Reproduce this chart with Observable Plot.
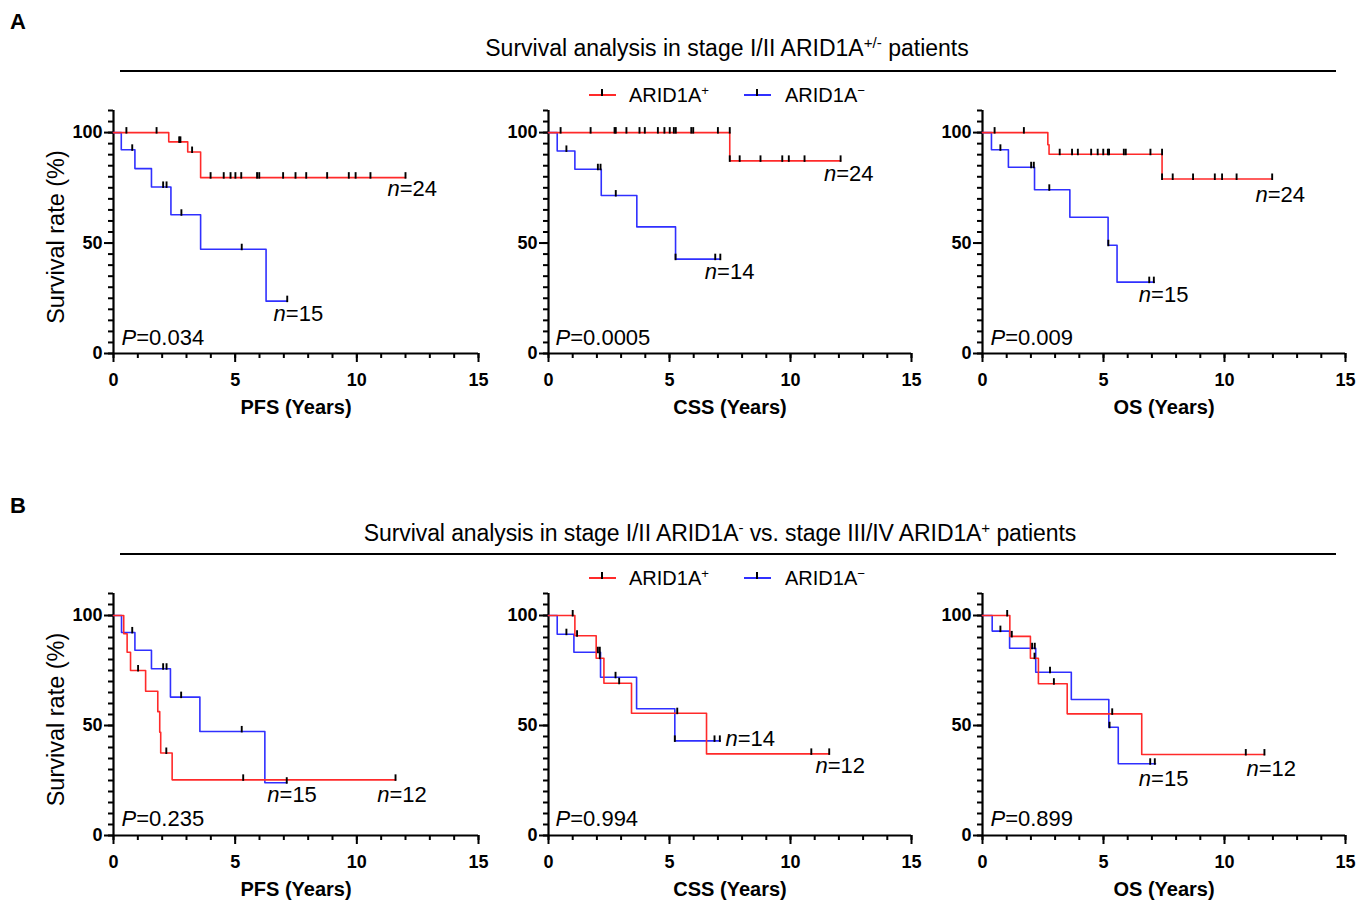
<!DOCTYPE html>
<html><head><meta charset="utf-8">
<script src="https://cdn.jsdelivr.net/npm/d3@7"></script>
<script src="https://cdn.jsdelivr.net/npm/@observablehq/plot@0.6"></script>
<style>
body{margin:0;background:#fff;font-family:"Liberation Sans",Arial,sans-serif;color:#000;}
#root{position:relative;width:1365px;height:900px;overflow:hidden;background:#fff;}
.abs{position:absolute;}
.letter{font-weight:bold;font-size:22px;line-height:1;}
.title{font-size:23px;white-space:nowrap;transform:translate(-50%,-50%);line-height:1;}
.rule{height:2px;background:#000;}
.lg{font-size:20px;white-space:nowrap;transform:translateY(-50%);line-height:1;}
.sw{height:2px;}
.sw::after{content:"";position:absolute;left:12px;bottom:0;width:2px;height:7px;background:#000;}
sup{font-size:66%;vertical-align:0.5em;line-height:0}
.panel{position:absolute;}
</style>
</head><body>
<div id="root"></div>
<script>
// ---------- data ----------
const RED = "#ff2a2a", BLUE = "#3030ff";
const legendLabels = ["ARID1A<sup>+</sup>", "ARID1A<sup>\u2212</sup>"];
const titleA = "Survival analysis in stage I/II ARID1A<sup>+/-</sup> patients";
const titleB = "Survival analysis in stage I/II ARID1A<sup>-</sup> vs. stage III/IV ARID1A<sup>+</sup> patients";
const xLabels = ["PFS (Years)", "CSS (Years)", "OS (Years)"];
const yLabel = "Survival rate (%)";
const xMajorTicks = [0, 5, 10, 15];
const yMajorTicks = [0, 50, 100];

// A1 PFS
const A1_pos_t = [0, 2.27, 3.05, 3.58, 12.0];
const A1_pos_s = [100, 95.8, 91.2, 79.6, 79.6];
const A1_pos_ct = [0.53, 1.77, 2.7, 2.75, 3.23, 3.99, 4.53, 4.81, 5.01, 5.25, 5.9, 5.99, 6.97, 7.48, 7.92, 8.78, 9.67, 9.95, 10.56, 12.0];
const A1_pos_cs = [100, 100, 95.8, 95.8, 91.2, 79.6, 79.6, 79.6, 79.6, 79.6, 79.6, 79.6, 79.6, 79.6, 79.6, 79.6, 79.6, 79.6, 79.6, 79.6];
const A1_neg_t = [0, 0.32, 0.88, 1.56, 2.36, 3.58, 6.27, 7.14];
const A1_neg_s = [100, 92.2, 83.7, 75.4, 62.8, 47.2, 23.7, 23.7];
const A1_neg_ct = [0.77, 2.04, 2.18, 2.79, 5.27, 7.14];
const A1_neg_cs = [92.2, 75.4, 75.4, 62.8, 47.2, 23.7];

// A2 CSS
const A2_pos_t = [0, 7.49, 12.07];
const A2_pos_s = [100, 87.2, 87.2];
const A2_pos_ct = [0.5, 1.74, 2.73, 2.78, 3.22, 3.76, 3.98, 4.52, 4.79, 5.01, 5.18, 5.26, 5.9, 5.98, 7.0, 7.49, 7.49, 7.9, 8.76, 9.66, 9.93, 10.58, 12.07];
const A2_pos_cs = [100, 100, 100, 100, 100, 100, 100, 100, 100, 100, 100, 100, 100, 100, 100, 100, 87.2, 87.2, 87.2, 87.2, 87.2, 87.2, 87.2];
const A2_neg_t = [0, 0.36, 1.09, 2.18, 3.65, 5.25, 7.1];
const A2_neg_s = [100, 91.7, 83.4, 71.5, 57.3, 42.7, 42.7];
const A2_neg_ct = [0.74, 2.04, 2.15, 2.78, 5.25, 6.89, 7.1];
const A2_neg_cs = [91.7, 83.4, 83.4, 71.5, 42.7, 42.7, 42.7];

// A3 OS
const A3_pos_t = [0, 2.7, 2.75, 7.42, 11.97];
const A3_pos_s = [100, 94.5, 90.2, 79.0, 79.0];
const A3_pos_ct = [0.5, 1.71, 3.19, 3.7, 3.94, 4.49, 4.76, 4.99, 5.18, 5.23, 5.84, 5.92, 6.94, 7.42, 7.42, 7.86, 8.7, 9.6, 9.9, 10.5, 11.97];
const A3_pos_cs = [100, 100, 90.2, 90.2, 90.2, 90.2, 90.2, 90.2, 90.2, 90.2, 90.2, 90.2, 90.2, 90.2, 79.0, 79.0, 79.0, 79.0, 79.0, 79.0, 79.0];
const A3_neg_t = [0, 0.37, 1.07, 2.15, 3.61, 5.19, 5.56, 7.1];
const A3_neg_s = [100, 92.2, 84.3, 74.1, 61.7, 49.0, 32.3, 32.3];
const A3_neg_ct = [0.74, 2.01, 2.12, 2.76, 5.2, 6.89, 7.08];
const A3_neg_cs = [92.2, 84.3, 84.3, 74.1, 49.0, 32.3, 32.3];

// B1 PFS
const B1_pos_t = [0, 0.42, 0.56, 0.7, 1.32, 1.82, 1.9, 1.94, 2.41, 11.59];
const B1_pos_s = [100, 91.7, 83.3, 75.0, 65.6, 56.3, 46.9, 37.5, 25.3, 25.3];
const B1_pos_ct = [1.01, 2.17, 5.33, 11.59];
const B1_pos_cs = [75.0, 37.5, 25.3, 25.3];
const B1_neg_t = [0, 0.33, 0.88, 1.56, 2.34, 3.55, 6.22, 7.12];
const B1_neg_s = [100, 92.3, 84.2, 75.8, 62.9, 47.3, 24.0, 24.0];
const B1_neg_ct = [0.77, 2.04, 2.18, 2.78, 5.27, 7.12];
const B1_neg_cs = [92.3, 75.8, 75.8, 62.9, 47.3, 24.0];

// B2 CSS
const B2_pos_t = [0, 1.09, 1.97, 2.29, 3.43, 6.53, 11.6];
const B2_pos_s = [100, 90.8, 80.6, 69.2, 55.6, 37.1, 37.1];
const B2_pos_ct = [1.0, 1.18, 2.12, 2.92, 5.32, 10.86, 11.6];
const B2_pos_cs = [100, 90.8, 80.6, 69.2, 55.6, 37.1, 37.1];
const B2_neg_t = [0, 0.36, 1.05, 2.15, 3.64, 5.22, 7.1];
const B2_neg_s = [100, 91.5, 83.3, 71.9, 57.6, 43.0, 43.0];
const B2_neg_ct = [0.74, 2.04, 2.12, 2.77, 5.22, 6.86, 7.08];
const B2_neg_cs = [91.5, 83.3, 83.3, 71.9, 43.0, 43.0, 43.0];

// B3 OS
const B3_pos_t = [0, 1.13, 1.98, 2.31, 3.5, 6.58, 11.65];
const B3_pos_s = [100, 90.5, 80.6, 69.0, 55.3, 36.8, 36.8];
const B3_pos_ct = [1.02, 1.21, 2.15, 2.95, 5.36, 10.88, 11.65];
const B3_pos_cs = [100, 90.5, 80.6, 69.0, 55.3, 36.8, 36.8];
const B3_neg_t = [0, 0.4, 1.12, 2.2, 3.67, 5.22, 5.61, 7.15];
const B3_neg_s = [100, 92.9, 85.1, 74.2, 61.8, 49.2, 32.6, 32.6];
const B3_neg_ct = [0.74, 2.05, 2.16, 2.79, 5.25, 6.93, 7.12];
const B3_neg_cs = [92.9, 85.1, 85.1, 74.2, 49.2, 32.6, 32.6];

const pValues = ["0.034", "0.0005", "0.009", "0.235", "0.994", "0.899"];
const nPos = ["24", "24", "24", "12", "12", "12"];
const nNeg = ["15", "14", "15", "15", "14", "15"];

// ---------- layout ----------
const root = document.getElementById("root");
function addDiv(cls, html, style) {
  const d = document.createElement("div");
  d.className = "abs " + cls;
  d.innerHTML = html;
  Object.assign(d.style, style);
  root.appendChild(d);
  return d;
}
addDiv("letter", "A", {left: "10px", top: "11px"});
addDiv("letter", "B", {left: "10px", top: "495px"});
addDiv("title", titleA, {left: "727px", top: "48px"});
addDiv("title", titleB, {left: "720px", top: "533px", letterSpacing: "-0.1px"});
addDiv("rule", "", {left: "120px", top: "70px", width: "1216px"});
addDiv("rule", "", {left: "120px", top: "553px", width: "1216px"});
for (const cy of [95, 578]) {
  addDiv("sw", "", {left: "589px", top: (cy - 1) + "px", width: "27px", background: RED});
  addDiv("lg", legendLabels[0], {left: "629px", top: cy + "px"});
  addDiv("sw", "", {left: "744px", top: (cy - 1) + "px", width: "27px", background: BLUE});
  addDiv("lg", legendLabels[1], {left: "785px", top: cy + "px"});
}

const tickSymbol = {draw(ctx) { ctx.moveTo(0, 1); ctx.lineTo(0, -5.5); }};
const zip = (t, s) => t.map((v, i) => ({t: v, s: s[i]}));

const colX0 = [113, 548, 982], colX15 = [478, 911, 1345];
const rowY0 = [353, 835], rowY110 = [110, 593];

// annotation positions (data coordinates) for P and n labels
const pAt = [[0.33, 7.2], [0.29, 7.2], [0.33, 7.2], [0.33, 7.7], [0.29, 7.7], [0.33, 7.7]];
const nPosAt = [[11.26, 74.7], [11.38, 81.3], [11.28, 71.8], [10.84, 18.5], [11.03, 31.8], [10.91, 30.3]];
const nNegAt = [[6.58, 18.1], [6.46, 36.8], [6.46, 26.6], [6.32, 18.5], [7.31, 44.0], [6.46, 25.8]];

const series = [
  [A1_pos_t, A1_pos_s, A1_pos_ct, A1_pos_cs, A1_neg_t, A1_neg_s, A1_neg_ct, A1_neg_cs],
  [A2_pos_t, A2_pos_s, A2_pos_ct, A2_pos_cs, A2_neg_t, A2_neg_s, A2_neg_ct, A2_neg_cs],
  [A3_pos_t, A3_pos_s, A3_pos_ct, A3_pos_cs, A3_neg_t, A3_neg_s, A3_neg_ct, A3_neg_cs],
  [B1_pos_t, B1_pos_s, B1_pos_ct, B1_pos_cs, B1_neg_t, B1_neg_s, B1_neg_ct, B1_neg_cs],
  [B2_pos_t, B2_pos_s, B2_pos_ct, B2_pos_cs, B2_neg_t, B2_neg_s, B2_neg_ct, B2_neg_cs],
  [B3_pos_t, B3_pos_s, B3_pos_ct, B3_pos_cs, B3_neg_t, B3_neg_s, B3_neg_ct, B3_neg_cs]
];

const ML = 80, MR = 15, MT = 10, MB = 70;
series.forEach((sr, k) => {
  const row = Math.floor(k / 3), col = k % 3;
  const W = colX15[col] - colX0[col], H = rowY0[row] - rowY110[row];
  const [pt, ps, pct, pcs, nt, ns, nct, ncs] = sr;
  const pos = zip(pt, ps), neg = zip(nt, ns);
  const cens = zip(nct, ncs).concat(zip(pct, pcs));
  const marks = [
    Plot.axisY(d3.range(0, 111, 5), {tickSize: 5, tickFormat: () => "", strokeWidth: 2, label: null}),
    Plot.axisY(yMajorTicks, {tickSize: 9, tickPadding: 2, fontSize: 18, fontWeight: "bold", strokeWidth: 2, label: null}),
    Plot.axisX(d3.range(0, 16, 1), {tickSize: 5, tickFormat: () => "", strokeWidth: 2, label: null}),
    Plot.axisX(xMajorTicks, {tickSize: 9, tickPadding: 11, fontSize: 18, fontWeight: "bold", strokeWidth: 2, label: null}),
    Plot.ruleX([0], {strokeWidth: 2.2}),
    Plot.ruleY([0], {strokeWidth: 2.2}),
    Plot.line(neg, {x: "t", y: "s", curve: "step-after", stroke: BLUE, strokeWidth: 1.6}),
    Plot.line(pos, {x: "t", y: "s", curve: "step-after", stroke: RED, strokeWidth: 1.6}),
    Plot.dot(cens, {x: "t", y: "s", symbol: tickSymbol, fill: "none", stroke: "#000", strokeWidth: 1.9}),
    Plot.text([xLabels[col]], {text: d => d, frameAnchor: "bottom", lineAnchor: "middle", textAnchor: "middle", dy: 54, fontSize: 20, fontWeight: "bold"}),
    Plot.text(["P=" + pValues[k]], {text: d => d, x: pAt[k][0], y: pAt[k][1], textAnchor: "start", lineAnchor: "middle", fontSize: 22}),
    Plot.text(["n=" + nPos[k]], {text: d => d, x: nPosAt[k][0], y: nPosAt[k][1], textAnchor: "start", lineAnchor: "middle", fontSize: 22}),
    Plot.text(["n=" + nNeg[k]], {text: d => d, x: nNegAt[k][0], y: nNegAt[k][1], textAnchor: "start", lineAnchor: "middle", fontSize: 22})
  ];
  if (col === 0) {
    marks.push(Plot.text([yLabel], {text: d => d, frameAnchor: "left", textAnchor: "middle", lineAnchor: "middle", dx: -57, dy: 5, rotate: -90, fontSize: 23.5}));
  }
  const svg = Plot.plot({
    width: ML + W + MR, height: MT + H + MB,
    marginLeft: ML, marginRight: MR, marginTop: MT, marginBottom: MB,
    x: {domain: [0, 15], label: null},
    y: {domain: [0, 110], label: null},
    style: {background: "transparent", overflow: "visible", fontFamily: '"Liberation Sans", Arial, sans-serif', color: "#000"},
    marks
  });
  d3.select(svg).selectAll("text").each(function() {
    const s = this.textContent;
    const m = /^([nP])(=.*)$/.exec(s);
    if (m && this.childElementCount === 0) {
      const sel = d3.select(this);
      sel.text(null);
      sel.append("tspan").attr("font-style", "italic").text(m[1]);
      sel.append("tspan").text(m[2]);
    }
  });
  svg.classList.add("panel");
  svg.style.left = (colX0[col] - ML) + "px";
  svg.style.top = (rowY110[row] - MT) + "px";
  svg.style.position = "absolute";
  root.appendChild(svg);
});
</script>
</body></html>
